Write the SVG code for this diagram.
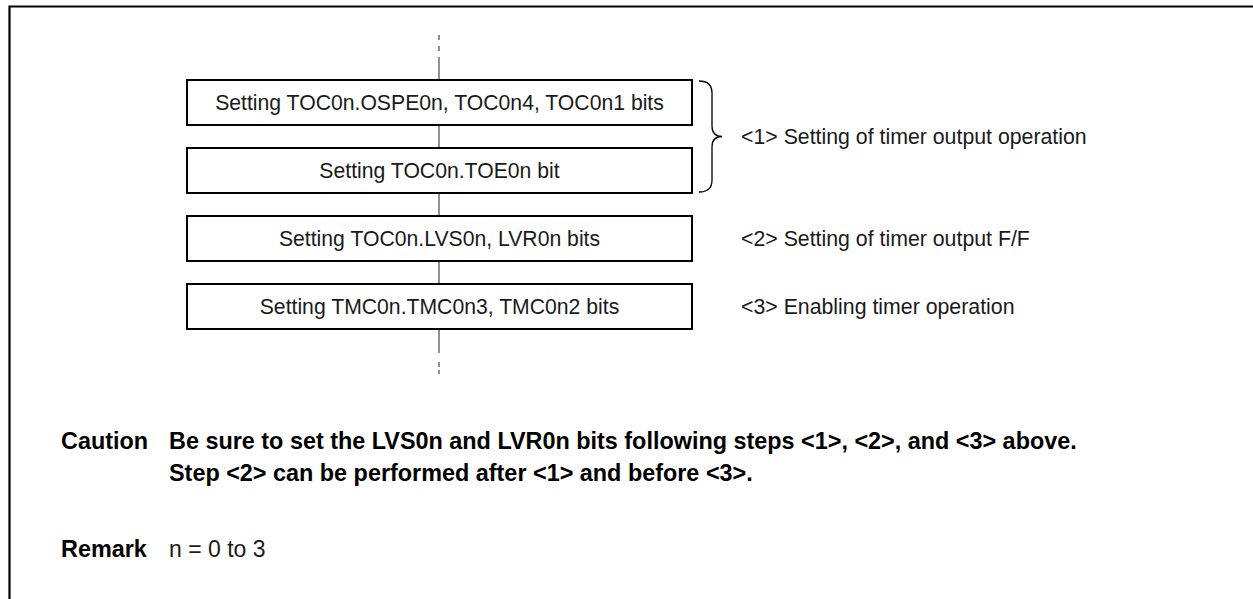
<svg xmlns="http://www.w3.org/2000/svg" width="1253" height="599" viewBox="0 0 1253 599">
<style>
.box{fill:#fff;stroke:#000;stroke-width:2}
.bt{font-family:"Liberation Sans",Arial,sans-serif;font-size:21.2px;fill:#1a1a1a;text-anchor:middle}
.lb{font-family:"Liberation Sans",Arial,sans-serif;font-size:21.3px;fill:#1a1a1a}
.cb{font-family:"Liberation Sans",Arial,sans-serif;font-size:23.4px;font-weight:bold;fill:#000}
.cr{font-family:"Liberation Sans",Arial,sans-serif;font-size:23px;fill:#1a1a1a}
.ln{stroke:#555;stroke-width:1.3;fill:none}
</style>
<rect width="1253" height="599" fill="#fff"/>
<path d="M9.5,599 V6.5 H1253" fill="none" stroke="#000" stroke-width="2.2"/>
<g id="connectors">
<line class="ln" x1="439" y1="35" x2="439" y2="40"/>
<line class="ln" x1="439" y1="46" x2="439" y2="51"/>
<line class="ln" x1="439" y1="57" x2="439" y2="80"/>
<line class="ln" x1="439" y1="125" x2="439" y2="148"/>
<line class="ln" x1="439" y1="193" x2="439" y2="216"/>
<line class="ln" x1="439" y1="261" x2="439" y2="284"/>
<line class="ln" x1="439" y1="329" x2="439" y2="353"/>
<line class="ln" x1="439" y1="362" x2="439" y2="367"/>
<line class="ln" x1="439" y1="370" x2="439" y2="374"/>
</g>
<g id="n1"><rect class="box" x="187" y="80" width="505" height="45"/><text class="bt" x="439.5" y="110">Setting TOC0n.OSPE0n, TOC0n4, TOC0n1 bits</text></g>
<g id="n2"><rect class="box" x="187" y="148" width="505" height="45"/><text class="bt" x="439.5" y="178">Setting TOC0n.TOE0n bit</text></g>
<g id="n3"><rect class="box" x="187" y="216" width="505" height="45"/><text class="bt" x="439.5" y="246">Setting TOC0n.LVS0n, LVR0n bits</text></g>
<g id="n4"><rect class="box" x="187" y="284" width="505" height="45"/><text class="bt" x="439.5" y="314">Setting TMC0n.TMC0n3, TMC0n2 bits</text></g>
<g id="brace"><path d="M699,81 C708,81 712,85 712,93 L712,126 C712,132 715,136.5 722,136.5 C715,136.5 712,141 712,147 L712,180 C712,188 708,192 699,192" fill="none" stroke="#000" stroke-width="1.3"/></g>
<g id="labels">
<text class="lb" x="741" y="144">&lt;1&gt; Setting of timer output operation</text>
<text class="lb" x="741" y="246">&lt;2&gt; Setting of timer output F/F</text>
<text class="lb" x="741" y="314">&lt;3&gt; Enabling timer operation</text>
</g>
<g id="notes">
<text class="cb" x="61" y="449">Caution</text>
<text class="cb" x="169" y="449">Be sure to set the LVS0n and LVR0n bits following steps &lt;1&gt;, &lt;2&gt;, and &lt;3&gt; above.</text>
<text class="cb" x="169" y="481">Step &lt;2&gt; can be performed after &lt;1&gt; and before &lt;3&gt;.</text>
<text class="cb" x="61" y="557">Remark</text>
<text class="cr" x="169" y="557">n = 0 to 3</text>
</g>
</svg>
